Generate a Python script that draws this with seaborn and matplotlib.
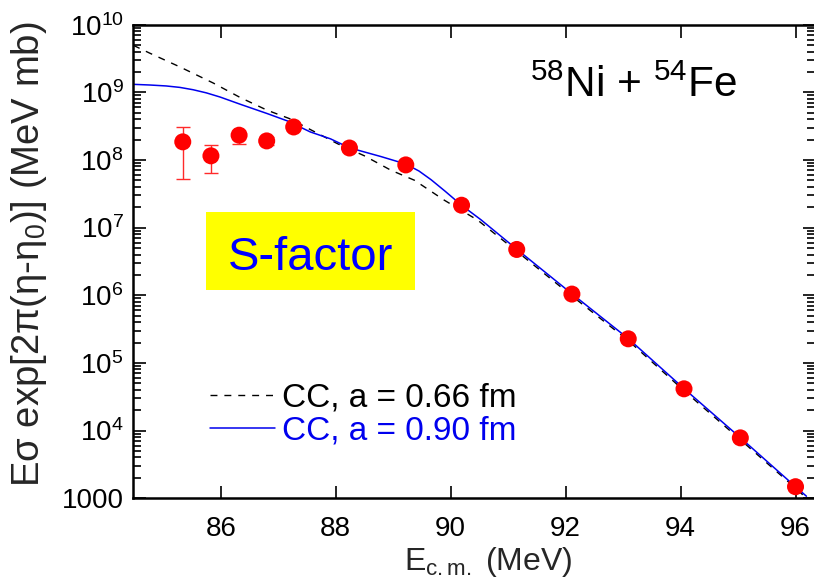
import numpy as np
import matplotlib
matplotlib.use("Agg")
import matplotlib.pyplot as plt
import matplotlib.ticker as mticker
from matplotlib.patches import Rectangle
import seaborn as sns

# Measured S-factor for 58Ni + 54Fe
e_exp = [85.34, 85.83, 86.32, 86.80, 87.27, 88.24, 89.22, 90.19,
         91.15, 92.11, 93.09, 94.06, 95.04, 96.00]
s_exp = [1.85e8, 1.15e8, 2.32e8, 1.91e8, 3.07e8, 1.50e8, 8.44e7, 2.14e7,
         4.75e6, 1.04e6, 2.27e5, 4.14e4, 7.8e3, 1.48e3]
s_err_lo = [1.32e8, 0.51e8, 0.61e8, 0.25e8, 0, 0, 0, 0,
            0, 0, 0, 0, 0, 0]
s_err_hi = [1.25e8, 0.52e8, 0.15e8, 0.25e8, 0, 0, 0, 0,
            0, 0, 0, 0, 0, 0]

# Coupled-channels calculation, diffuseness a = 0.66 fm
e_066 = [84.48, 84.77, 85.29, 85.87, 86.34, 86.81, 87.21, 87.56, 88.03, 88.50,
         88.96, 89.37, 89.89, 90.47, 91.15, 92.11, 93.09, 94.06, 95.04, 96.00, 96.19]
s_066 = [4.94e9, 3.77e9, 2.37e9, 1.37e9, 8.36e8, 5.42e8, 4.04e8, 2.81e8, 1.74e8, 1.15e8,
         7.05e7, 5.01e7, 2.54e7, 1.29e7, 4.47e6, 9.77e5, 2.14e5, 3.89e4, 7.33e3, 1.41e3, 1.0e3]

# Coupled-channels calculation, diffuseness a = 0.90 fm
e_090 = [84.48, 84.77, 85.05, 85.29, 85.52, 85.75, 85.99, 86.34, 86.81, 87.16, 87.56,
         87.91, 88.24, 88.79, 89.22, 89.45, 89.66, 89.90, 90.19, 90.53, 91.15, 92.11,
         93.09, 94.06, 95.04, 96.00, 96.19]
s_090 = [1.31e9, 1.28e9, 1.24e9, 1.18e9, 1.09e9, 9.8e8, 8.5e8, 6.65e8, 4.84e8, 3.77e8, 2.59e8,
         2.05e8, 1.51e8, 1.12e8, 8.7e7, 6.85e7, 5.1e7, 3.47e7, 2.14e7, 1.30e7, 4.79e6, 1.05e6,
         2.29e5, 4.17e4, 7.85e3, 1.48e3, 1.07e3]

x_ticks = [86, 88, 90, 92, 94, 96]
y_ticks = [1e3, 1e4, 1e5, 1e6, 1e7, 1e8, 1e9, 1e10]
y_tick_labels = ["1000", r"$10^{4}$", r"$10^{5}$", r"$10^{6}$", r"$10^{7}$",
                 r"$10^{8}$", r"$10^{9}$", r"$10^{10}$"]

sns.set_style("ticks")
plt.rcParams["font.family"] = ["Liberation Sans", "DejaVu Sans"]
plt.rcParams["mathtext.fontset"] = "custom"
plt.rcParams["mathtext.rm"] = "Liberation Sans"
plt.rcParams["mathtext.it"] = "Liberation Sans:italic"
plt.rcParams["mathtext.bf"] = "Liberation Sans:bold"

fig = plt.figure(figsize=(8.14, 5.86), dpi=100)
ax = fig.add_axes([0.1638, 0.1498, 0.8375, 0.8082])

sns.lineplot(x=e_066, y=s_066, ax=ax, color="black", lw=1.0,
             linestyle=(0, (5, 5)), label="CC, a = 0.66 fm", sort=False)
sns.lineplot(x=e_090, y=s_090, ax=ax, color="#0000ee", lw=1.1,
             label="CC, a = 0.90 fm", sort=False)

ax.errorbar(e_exp, s_exp, yerr=[s_err_lo, s_err_hi], fmt="none", ecolor="#ff2a2a",
            elinewidth=1.0, capsize=5, capthick=1.0, zorder=3)
sns.scatterplot(x=e_exp, y=s_exp, ax=ax, color="#ff0000", s=150,
                edgecolor="none", zorder=4, legend=False)

ax.set_yscale("log")
ax.set_xlim(84.48, 96.34)
ax.set_ylim(1e3, 1e10)

ax.set_xticks(x_ticks)
ax.set_xticklabels([str(t) for t in x_ticks])
ax.xaxis.set_minor_locator(mticker.NullLocator())
ax.yaxis.set_major_locator(mticker.FixedLocator(y_ticks))
ax.yaxis.set_major_formatter(mticker.FixedFormatter(y_tick_labels))
ax.yaxis.set_minor_locator(mticker.LogLocator(base=10, subs=np.arange(2, 10), numticks=20))
ax.yaxis.set_minor_formatter(mticker.NullFormatter())

ax.tick_params(which="both", direction="in", top=True, right=True,
               colors="black", width=1.2)
ax.tick_params(which="major", length=9, labelsize=20)
ax.tick_params(axis="x", which="major", pad=13)
ax.tick_params(axis="y", which="major", pad=7)
ax.tick_params(which="minor", length=5.5)
for sp in ax.spines.values():
    sp.set_linewidth(1.8)
    sp.set_color("black")

ax.set_xlabel(r"E$_{\rm c.m.}$ (MeV)", fontsize=23)
ax.xaxis.set_label_coords(0.52, -0.098)
ax.xaxis.label.set_va("top")
ax.set_ylabel("Eσ exp[2π(η-η$_0$)] (MeV mb)", fontsize=27.5)
ax.yaxis.set_label_coords(-0.124, 0.515)

leg = ax.legend(loc="upper left", bbox_to_anchor=(0.1125, 0.245), frameon=False,
                fontsize=24, handlelength=1.95, handletextpad=0.2,
                labelspacing=0.07, borderpad=0, borderaxespad=0,
                labelcolor="linecolor")

fig.text(530 / 814, 1 - 97 / 586, r"$^{58}$Ni + $^{54}$Fe", fontsize=30.5,
         ha="left", va="baseline", color="black")

fig.patches.append(Rectangle((206 / 814, 1 - 290 / 586), 209 / 814, 78 / 586,
                             transform=fig.transFigure, facecolor="#ffff00",
                             edgecolor="none", zorder=1))
fig.text(310.5 / 814, 1 - 270 / 586, "S-factor", fontsize=34, color="#0000ff",
         ha="center", va="baseline", zorder=2)

fig.savefig("out.png", dpi=100)
